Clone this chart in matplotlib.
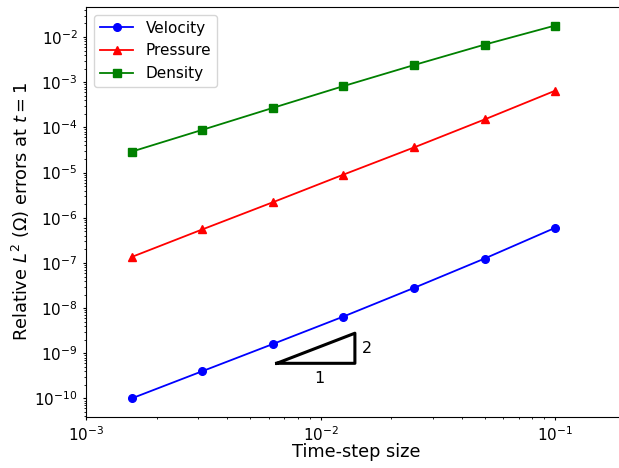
import numpy as np
import matplotlib
matplotlib.use("Agg")
import matplotlib.pyplot as plt
from matplotlib.ticker import NullFormatter

dt = [0.1, 0.05, 0.025, 0.0125, 0.00625, 0.003125, 0.0015625]
velocity = [6.0e-7, 1.25e-7, 2.8e-8, 6.5e-9, 1.6e-9, 4.0e-10, 1.0e-10]
pressure = [6.5e-4, 1.5e-4, 3.6e-5, 9.0e-6, 2.2e-6, 5.5e-7, 1.35e-7]
density = [1.8e-2, 6.8e-3, 2.4e-3, 8.2e-4, 2.7e-4, 8.8e-5, 2.9e-5]

tri_x = [0.0065, 0.014]
tri_y0 = 6.0e-10
slope = 2

fig = plt.figure(figsize=(6.19, 4.68), dpi=100)
ax = fig.add_axes([0.139, 0.109, 0.872, 0.876])

ax.loglog(dt, velocity, 'b-o', lw=1.3, ms=5.5, label='Velocity')
ax.loglog(dt, pressure, 'r-^', lw=1.3, ms=5.5, label='Pressure')
ax.loglog(dt, density, 'g-s', lw=1.3, ms=5.5, label='Density')

x0, x1 = tri_x
y1 = tri_y0 * (x1 / x0) ** slope
ax.plot([x0, x1, x1, x0], [tri_y0, tri_y0, y1, tri_y0], 'k-', lw=2.2)
ax.text(0.0099, tri_y0 * 0.46, '1', ha='center', va='center', fontsize=11.5)
ax.text(x1 * 1.12, np.sqrt(tri_y0 * y1), '2', ha='center', va='center', fontsize=11.5)

ax.set_xlim(1e-3, 0.2)
ax.set_ylim(10 ** -10.41, 10 ** -1.335)
ax.xaxis.set_minor_formatter(NullFormatter())
ax.yaxis.set_minor_formatter(NullFormatter())
ax.tick_params(which='major', labelsize=11, length=2.5)
ax.tick_params(which='minor', length=1.5)
ax.set_xlabel('Time-step size', fontsize=12.8)
ax.set_ylabel(r'Relative $L^2$ $(\Omega)$ errors at $t=1$', fontsize=12.8)
ax.xaxis.set_label_coords(0.5, -0.063)
ax.yaxis.set_label_coords(-0.100, 0.5)
ax.legend(loc='upper left', fontsize=11, handlelength=2.2, borderaxespad=0.5)

fig.savefig('out.png', dpi=100)
